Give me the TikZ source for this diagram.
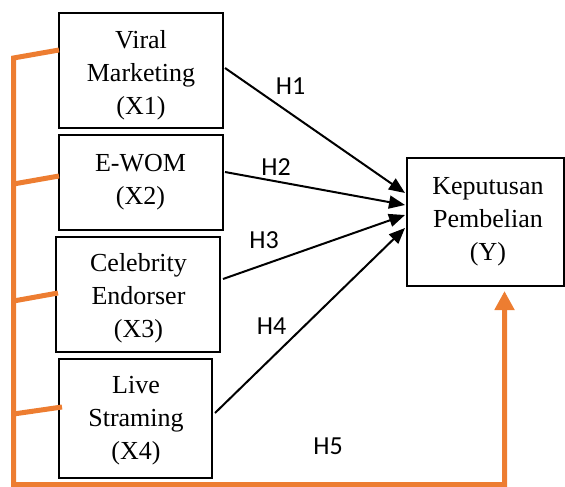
\documentclass[tikz,border=0pt]{standalone}
\usepackage{fontspec}
\setmainfont{Liberation Serif}
\newfontfamily\hfont{Carlito}
\usetikzlibrary{arrows.meta}
\definecolor{orng}{HTML}{ED7D31}
\begin{document}
\begin{tikzpicture}[x=1pt,y=-1pt,
  box/.style={draw=black,line width=2pt,rectangle,inner sep=0pt,outer sep=0pt},
  txt/.style={align=center,inner sep=0pt,font=\fontsize{26}{33}\selectfont},
  hl/.style={inner sep=0pt,font=\hfont\fontsize{26}{26}\selectfont},
  arr/.style={line width=2pt,-{Triangle[length=16pt,width=13pt]}},
  oline/.style={draw=orng,line width=5pt},
  oarr/.style={draw=orng,line width=5pt,-{Triangle[length=19pt,width=19pt]}}]
\useasboundingbox (0,0) rectangle (565,487);
% boxes
\node[box,minimum width=164pt,minimum height=115pt] (x1) at (141,70.5) {};
\node[box,minimum width=164pt,minimum height=95pt] (x2) at (141,182.5) {};
\node[box,minimum width=164pt,minimum height=115pt] (x3) at (138,294.5) {};
\node[box,minimum width=153pt,minimum height=119pt] (x4) at (135.5,418.5) {};
\node[box,minimum width=157pt,minimum height=128pt] (y) at (485.5,222) {};
% texts
\node[txt] (x1t) at (141,75) {Viral\\Marketing\\(X1)};
\node[txt] (x2t) at (140.5,182.5) {E-WOM\\(X2)};
\node[txt] (x3t) at (138.5,298.5) {Celebrity\\Endorser\\(X3)};
\node[txt] (x4t) at (136,421) {Live\\Straming\\(X4)};
\node[txt] (yt) at (488,221.5) {Keputusan\\Pembelian\\(Y)};
% black arrows
\draw[arr] ([xshift=2pt,yshift=2.5pt]x1.east) -- ([xshift=-2pt,yshift=29pt]y.west);
\draw[arr] ([xshift=2pt,yshift=10.5pt]x2.east) -- ([xshift=-2pt,yshift=17pt]y.west);
\draw[arr] ([xshift=3pt,yshift=15.5pt]x3.east) -- ([xshift=-2pt,yshift=7pt]y.west);
\draw[arr] ([xshift=3pt,yshift=5.5pt]x4.east) -- ([xshift=-2pt,yshift=-6pt]y.west);
% labels
\node[hl] (h1) at (290.5,86.5) {H1};
\node[hl] (h2) at (276,167) {H2};
\node[hl] (h3) at (264,240) {H3};
\node[hl] (h4) at (271.5,326) {H4};
\node[hl] (h5) at (328,446) {H5};
% orange connector
\coordinate (tl) at (13.5,58);
\coordinate (b2) at (13.5,184);
\coordinate (b3) at (13.5,301);
\coordinate (b4) at (13.5,414);
\coordinate (bl) at (13.5,484.5);
\coordinate (br) at (504.5,484.5);
\draw[oarr] ([yshift=20.5pt]x1.west) -- (tl) -- (bl) -- (br) -- ([xshift=19pt,yshift=-5pt]y.south);
\draw[oline] (b2) -- ([yshift=6.5pt]x2.west);
\draw[oline] (b3) -- ([xshift=2pt,yshift=1.5pt]x3.west);
\draw[oline] (b4) -- ([xshift=3pt,yshift=11.5pt]x4.west);
\end{tikzpicture}
\end{document}
